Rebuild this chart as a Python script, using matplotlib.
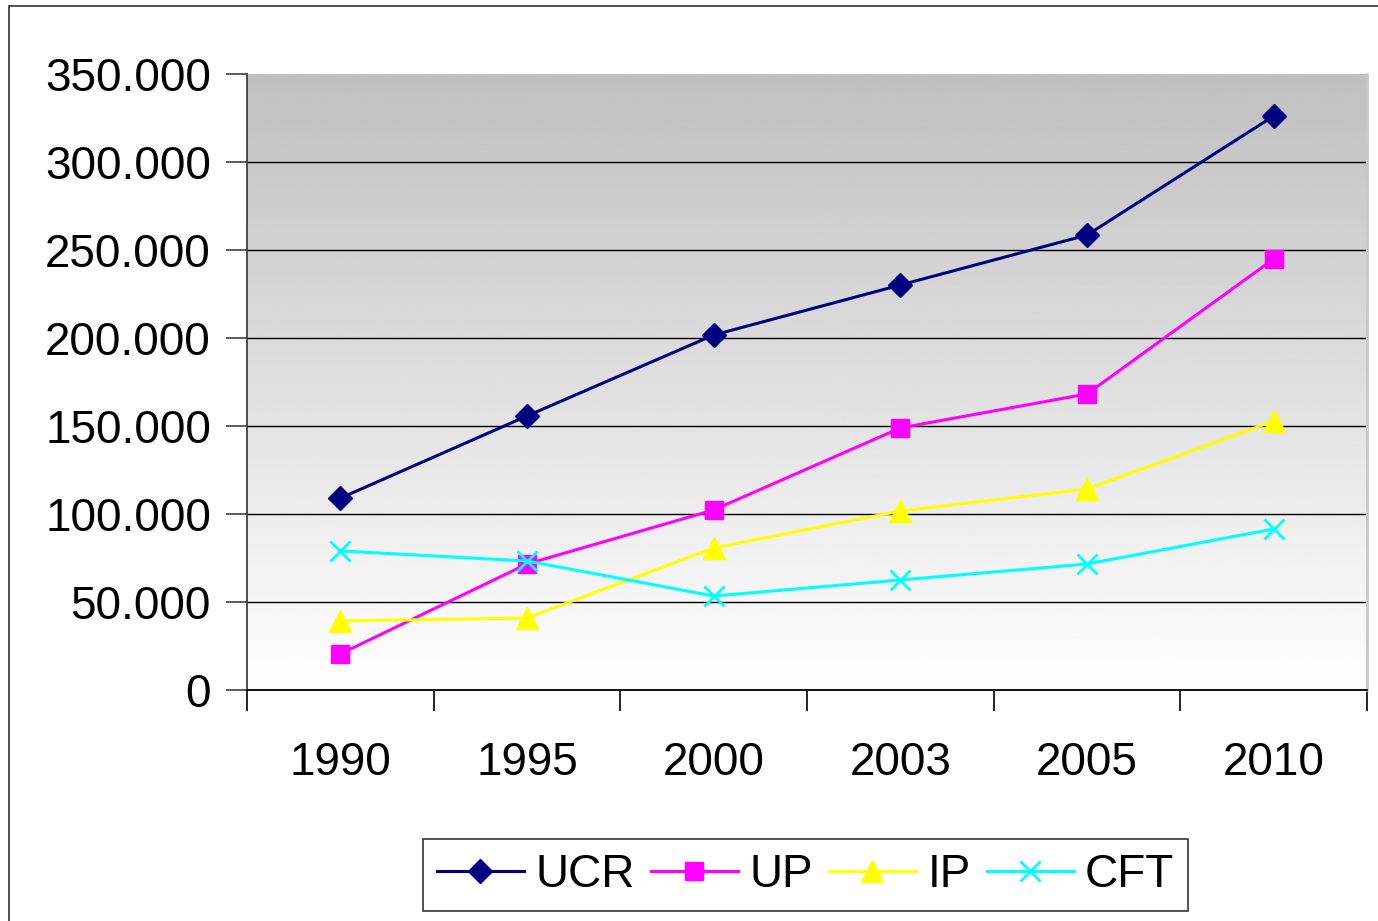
import numpy as np
import matplotlib
matplotlib.use("Agg")
import matplotlib.pyplot as plt
from matplotlib.ticker import FuncFormatter, FixedLocator, NullFormatter
from matplotlib.patches import Rectangle

# === DATA ===
years = ["1990", "1995", "2000", "2003", "2005", "2010"]
ucr = [109000, 155700, 201700, 230100, 258500, 326100]
up = [20500, 71600, 102300, 148900, 168200, 244900]
ip = [39200, 40900, 80700, 101700, 114200, 152800]
cft = [79000, 73300, 53400, 62500, 71600, 91500]

plt.rcParams["font.family"] = ["Liberation Sans", "DejaVu Sans"]

W, H = 1378, 921
fig = plt.figure(figsize=(W / 100, H / 100), dpi=100)

# outer chart border (right and bottom are cut off in the original)
fig.patches.append(Rectangle((9 / W, -0.05), 1.1, 1 - 6 / H + 0.05,
                             transform=fig.transFigure, fill=False,
                             edgecolor="#404040", linewidth=1.3))

ax = fig.add_axes([247 / W, 1 - 690 / H, 1120 / W, 616 / H])
x = np.arange(len(years))
ax.set_xlim(-0.5, len(years) - 0.5)
ax.set_ylim(0, 350000)

# grey (top) to white (bottom) gradient like the Excel plot area
grad = np.linspace(0.75, 1.0, 256).reshape(-1, 1)
ax.imshow(grad, cmap="gray", vmin=0, vmax=1, aspect="auto", origin="upper",
          extent=(-0.5, len(years) - 0.5, 0, 350000), zorder=0)

ax.set_yticks(np.arange(0, 350001, 50000))
ax.yaxis.grid(True, color="black", linewidth=1.0, zorder=1)
ax.set_axisbelow(True)
ax.yaxis.set_major_formatter(FuncFormatter(lambda v, p: f"{int(v):,}".replace(",", ".")))
ax.tick_params(axis="y", length=15, width=1.2, color="#404040", labelsize=33, pad=11)

ax.set_xticks(x)
ax.set_xticklabels(years)
ax.tick_params(axis="x", which="major", length=0, labelsize=33, pad=37)
ax.xaxis.set_minor_locator(FixedLocator(np.arange(-0.5, len(years), 1)))
ax.xaxis.set_minor_formatter(NullFormatter())
ax.tick_params(axis="x", which="minor", length=15, width=1.2, color="black")

ax.spines["top"].set_visible(False)
ax.spines["right"].set_color("#c8c8c8")
ax.spines["right"].set_linewidth(2)
ax.spines["left"].set_color("#404040")
ax.spines["left"].set_linewidth(1.3)
ax.spines["bottom"].set_color("black")
ax.spines["bottom"].set_linewidth(1.3)

ax.plot(x, ucr, color="#000080", marker="D", markersize=12, linewidth=2.2, label="UCR", zorder=3)
ax.plot(x, up, color="#ff00ff", marker="s", markersize=13, linewidth=2.2, label="UP", zorder=3)
ax.plot(x, ip, color="#ffff00", marker="^", markersize=16, linewidth=2.2, label="IP", zorder=3)
ax.plot(x, cft, color="#00ffff", marker="x", markersize=14, markeredgewidth=2, linewidth=2.2,
        label="CFT", zorder=3)

leg = fig.legend(loc="center", bbox_to_anchor=(805.5 / W, 1 - 875 / H), ncol=4,
                 fontsize=33, frameon=True, fancybox=False, edgecolor="black",
                 handlelength=1.9, handletextpad=0.25, columnspacing=0.35,
                 borderpad=0.3, borderaxespad=0)
leg.get_frame().set_linewidth(1.2)

# no gridline on the top edge of the plot area
fig.canvas.draw()
ax.yaxis.get_gridlines()[-1].set_visible(False)

fig.savefig("out.png", dpi=100)
